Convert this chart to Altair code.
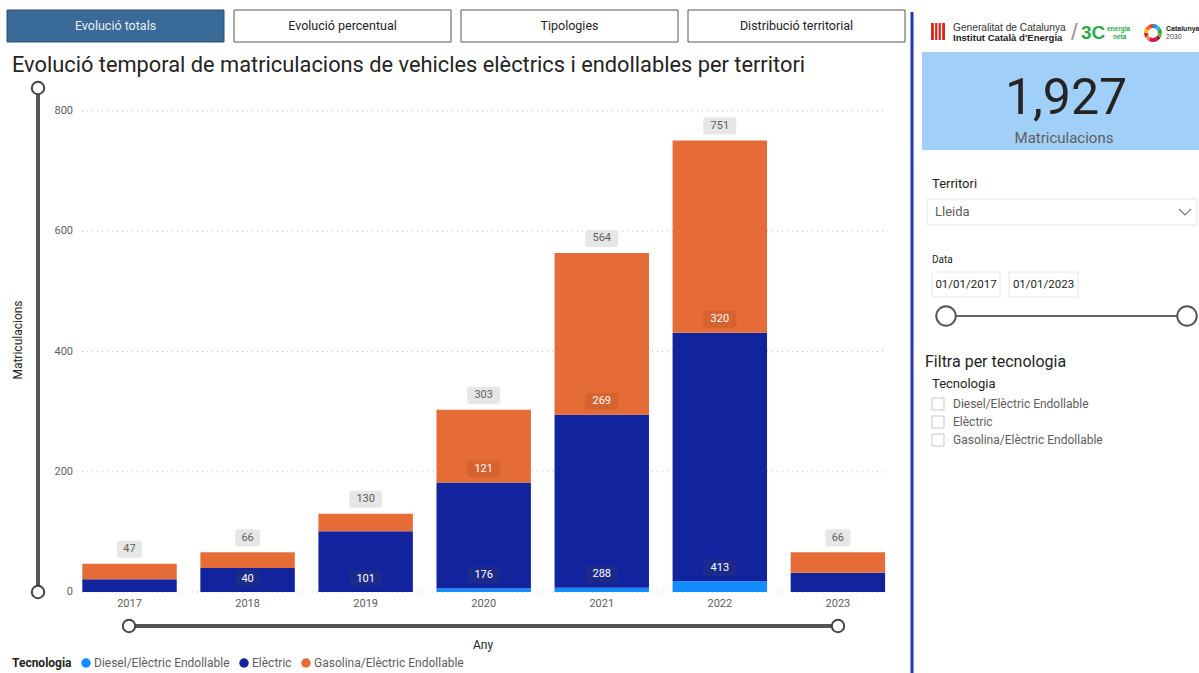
import altair as alt
import pandas as pd

# ---------------- data ----------------
years = ['2017', '2018', '2019', '2020', '2021', '2022', '2023']
techs = ['Diesel/Elèctric Endollable', 'Elèctric', 'Gasolina/Elèctric Endollable']
diesel = [0, 0, 0, 6, 7, 18, 0]
electric = [21, 40, 101, 176, 288, 413, 32]
gasoline = [26, 26, 29, 121, 269, 320, 34]
tech_colors = ['#118DFF', '#12239E', '#E66C37']
y_ticks = [0, 200, 400, 600, 800]
tabs = ['Evolució totals', 'Evolució percentual', 'Tipologies', 'Distribució territorial']
chart_title = 'Evolució temporal de matriculacions de vehicles elèctrics i endollables per territori'
kpi_label = 'Matriculacions'
territori = 'Lleida'
date_from, date_to = '01/01/2017', '01/01/2023'

# ---------------- tables ----------------
rows = []
for i, yr in enumerate(years):
    base = 0
    for k, (t, vals) in enumerate(zip(techs, [diesel, electric, gasoline])):
        v = vals[i]
        rows.append(dict(Any=yr, Tecnologia=t, Valor=v, ord=k, base=base))
        base += v
df = pd.DataFrame(rows)
tot = df.groupby('Any', as_index=False)['Valor'].sum().rename(columns={'Valor': 'Total'})
ticks = pd.DataFrame({'t': y_ticks})
yrs = pd.DataFrame({'Any': years})
one = pd.DataFrame({'k': [0]})

FONT = 'Roboto'
PX = 800 / 481.0  # data units per pixel

xscale = alt.Scale(domain=years, range=[70.5, 896.9], paddingInner=0.2, paddingOuter=0.1)
yscale = alt.Scale(domain=[0, 800], range=[592, 111])
X = alt.X('Any:N', sort=years, scale=xscale, axis=None)


def box_path(w, h, r=3):
    s = 10.0
    W, H, R = w / 2 / s, h / 2 / s, r / s
    return (f"M{-W+R},{-H}L{W-R},{-H}Q{W},{-H} {W},{-H+R}L{W},{H-R}Q{W},{H} {W-R},{H}"
            f"L{-W+R},{H}Q{-W},{H} {-W},{H-R}L{-W},{-H+R}Q{-W},{-H} {-W+R},{-H}Z")


P2 = box_path(25, 17)
P3 = box_path(33, 17)


def T(s, x, y, size=12, color='#252423', weight='normal', align='left', font=FONT, angle=0, baseline='middle'):
    kw = dict(text=s, fontSize=size, color=color, fontWeight=weight, align=align, font=font, baseline=baseline)
    if angle:
        kw['angle'] = angle
    return alt.Chart(one).mark_text(**kw).encode(x=alt.value(x), y=alt.value(y))


def R(x1, y1, x2, y2, fill='white', stroke=None, sw=1, r=0):
    kw = dict(fill=fill, cornerRadius=r)
    if stroke:
        kw.update(stroke=stroke, strokeWidth=sw)
    return alt.Chart(one).mark_rect(**kw).encode(x=alt.value(x1), x2=alt.value(x2), y=alt.value(y1), y2=alt.value(y2))


def L(x1, y1, x2, y2, color='#555555', w=1):
    return alt.Chart(one).mark_rule(color=color, strokeWidth=w).encode(
        x=alt.value(x1), x2=alt.value(x2), y=alt.value(y1), y2=alt.value(y2))


def C(x, y, d, fill='white', stroke='#444444', sw=2):
    return alt.Chart(one).mark_point(shape='circle', filled=True, fill=fill, stroke=stroke, strokeWidth=sw,
                                     size=3.14159 * d * d / 4, opacity=1).encode(x=alt.value(x), y=alt.value(y))


layers = []

# ---------------- tabs ----------------
tab_x = [(7, 224), (234, 451), (461, 678), (688, 905)]
for i, (name, (a, b)) in enumerate(zip(tabs, tab_x)):
    if i == 0:
        layers.append(R(a, 10, b, 42, fill='#3A6A97', stroke='#2D4D6C', sw=1))
        layers.append(T(name, (a + b) / 2, 26, size=12.5, color='#E9EEF4', align='center'))
    else:
        layers.append(R(a, 10, b, 42, fill='white', stroke='#555555', sw=1))
        layers.append(T(name, (a + b) / 2, 26, size=12.5, color='#252423', align='center'))

# title
layers.append(T(chart_title, 12, 65, size=21.8, color='#252423'))

# ---------------- gridlines & axis ----------------
layers.append(alt.Chart(ticks).mark_rule(strokeDash=[1, 4], color='#BEBEBE', strokeWidth=1).encode(
    y=alt.Y('t:Q', scale=yscale, axis=None), x=alt.value(82), x2=alt.value(885)))
layers.append(alt.Chart(ticks).mark_text(align='right', baseline='middle', fontSize=11, color='#605E5C', font=FONT).encode(
    y=alt.Y('t:Q', scale=yscale, axis=None), x=alt.value(73), text='t:Q'))
layers.append(alt.Chart(yrs).mark_text(align='center', baseline='middle', fontSize=11, color='#605E5C', font=FONT).encode(
    x=X, y=alt.value(604), text='Any:N'))

# ---------------- bars ----------------
bars = alt.Chart(df).mark_bar(strokeWidth=0).encode(
    x=X,
    y=alt.Y('Valor:Q', stack='zero', scale=yscale, axis=None),
    color=alt.Color('Tecnologia:N', scale=alt.Scale(domain=techs, range=tech_colors),
                    legend=alt.Legend(orient='none', legendX=12, legendY=657, direction='horizontal',
                                      title='Tecnologia', titleOrient='left', titleFontSize=12,
                                      titleFontWeight='bold', titleColor='#252423', titleFont=FONT,
                                      labelFont=FONT, labelFontSize=12, labelColor='#605E5C',
                                      symbolType='circle', symbolSize=90, symbolStrokeWidth=0,
                                      columnPadding=8, labelOffset=2, titlePadding=8, labelLimit=300)),
    order=alt.Order('ord:Q'))
layers.append(bars)

# segment labels
for tech, boxfill in [(techs[1], '#1C2A8C'), (techs[2], '#D6622F')]:
    seg = alt.Chart(df).transform_filter(
        f"datum.Valor >= 40 && datum.Tecnologia == '{tech}'"
    ).transform_calculate(
        yc=f"datum.base + {13.5 * PX}",
        shp=f"length(toString(datum.Valor)) < 3 ? '{P2}' : '{P3}'"
    )
    layers.append(seg.mark_point(filled=True, fill=boxfill, size=400, opacity=1, strokeWidth=0).encode(
        x=X, y=alt.Y('yc:Q', scale=yscale, axis=None), shape=alt.Shape('shp:N', scale=None)))
    layers.append(seg.mark_text(fontSize=11, color='white', baseline='middle', font=FONT).encode(
        x=X, y=alt.Y('yc:Q', scale=yscale, axis=None), text='Valor:Q'))

# total labels
totc = alt.Chart(tot).transform_calculate(
    yc=f"datum.Total + {14.5 * PX}",
    shp=f"length(toString(datum.Total)) < 3 ? '{P2}' : '{P3}'"
)
layers.append(totc.mark_point(filled=True, fill='#E6E6E6', size=400, opacity=1, strokeWidth=0).encode(
    x=X, y=alt.Y('yc:Q', scale=yscale, axis=None), shape=alt.Shape('shp:N', scale=None)))
layers.append(totc.mark_text(fontSize=11, color='#605E5C', baseline='middle', font=FONT).encode(
    x=X, y=alt.Y('yc:Q', scale=yscale, axis=None), text='Total:Q'))

# ---------------- sliders / axis titles ----------------
layers.append(L(38, 88, 38, 592, '#555555', 4))
layers.append(C(38, 88, 14))
layers.append(C(38, 592, 14))
layers.append(L(129, 626, 838, 626, '#555555', 4))
layers.append(C(129, 626, 14))
layers.append(C(838, 626, 14))
layers.append(T('Matriculacions', 18, 340, size=12, color='#252423', align='center', angle=270))
layers.append(T('Any', 483, 645, size=12, color='#252423', align='center'))

# ---------------- right panel ----------------
layers.append(L(912, 12, 912, 673, '#2536A8', 3))
# logos
layers.append(R(931, 23, 945, 40, fill='#D52B1E'))
for xx in [934.5, 938, 941.5]:
    layers.append(L(xx, 23, xx, 40, 'white', 1.2))
layers.append(T('Generalitat de Catalunya', 953, 28, size=10.2, color='#333333', font='Liberation Sans'))
layers.append(T("Institut Català d'Energia", 953, 38, size=9.6, color='#222222', weight='bold', font='Liberation Sans'))
layers.append(T('/', 1071, 33, size=24, color='#9A9A9A', font='Liberation Sans'))
layers.append(T('3C', 1081, 33, size=19, color='#2BAA4A', weight='bold', font='Liberation Sans'))
layers.append(T('energia', 1107, 29, size=6.5, color='#2BAA4A', weight='bold', font='Liberation Sans'))
layers.append(T('neta', 1113, 37, size=6.5, color='#2BAA4A', weight='bold', font='Liberation Sans'))
sdg = pd.DataFrame({'v': [1] * 12, 'c': ['#E5243B', '#DDA63A', '#4C9F38', '#C5192D', '#FF3A21', '#26BDE2',
                                          '#FCC30B', '#A21942', '#FD6925', '#DD1367', '#0A97D9', '#56C02B']})
layers.append(alt.Chart(sdg).mark_arc(innerRadius=5, outerRadius=9).encode(
    theta=alt.Theta('v:Q'), fill=alt.Fill('c:N', scale=None), x=alt.value(1153), y=alt.value(33)))
layers.append(T('Catalunya', 1166, 29, size=7, color='#222222', weight='bold', font='Liberation Sans'))
layers.append(T('2030', 1166, 37, size=7, color='#444444', font='Liberation Sans'))

# KPI card
layers.append(R(922, 52, 1199, 150, fill='#A0CFF8'))
layers.append(T(f"{sum(diesel) + sum(electric) + sum(gasoline):,}", 1066, 99, size=50, color='#252423', align='center'))
layers.append(T(kpi_label, 1064, 138, size=15, color='#605E5C', align='center'))

# Territori slicer
layers.append(T('Territori', 932, 184, size=13, color='#252423'))
layers.append(R(927, 199, 1197, 225, fill='white', stroke='#E6E6E6'))
layers.append(T(territori, 935, 212, size=13, color='#605E5C'))
layers.append(alt.Chart(one).mark_point(shape='M-1,-0.5L0,0.5L1,-0.5', filled=False, stroke='#777777',
                                        strokeWidth=1.2, size=144, opacity=1).encode(x=alt.value(1185), y=alt.value(212)))

# Data slicer
layers.append(T('Data', 932, 260, size=10, color='#252423'))
layers.append(R(932, 272, 1000, 297, fill='white', stroke='#E6E6E6'))
layers.append(R(1009, 272, 1078, 297, fill='white', stroke='#E6E6E6'))
layers.append(T(date_from, 966, 285, size=11.5, color='#252423', align='center'))
layers.append(T(date_to, 1043.5, 285, size=11.5, color='#252423', align='center'))
layers.append(L(946, 316, 1187, 316, '#666666', 2))
layers.append(C(946, 316, 22, stroke='#555555', sw=2))
layers.append(C(1187, 316, 22, stroke='#555555', sw=2))

# Tecnologia filter
layers.append(T('Filtra per tecnologia', 925, 362, size=16, color='#252423'))
layers.append(T('Tecnologia', 932, 384, size=13, color='#252423'))
for j, name in enumerate(techs):
    yy = 404 + 18 * j
    layers.append(R(932, yy - 6, 944, yy + 6, fill='white', stroke='#C8C8C8'))
    layers.append(T(name, 953, yy, size=12, color='#605E5C'))

chart = alt.layer(*layers).properties(
    width=1199, height=673,
    autosize=alt.AutoSizeParams(type='none'),
    padding=0,
    background='white'
).configure_view(stroke=None)

chart.save('out.html', embed_options={'renderer': 'svg', 'actions': False})
